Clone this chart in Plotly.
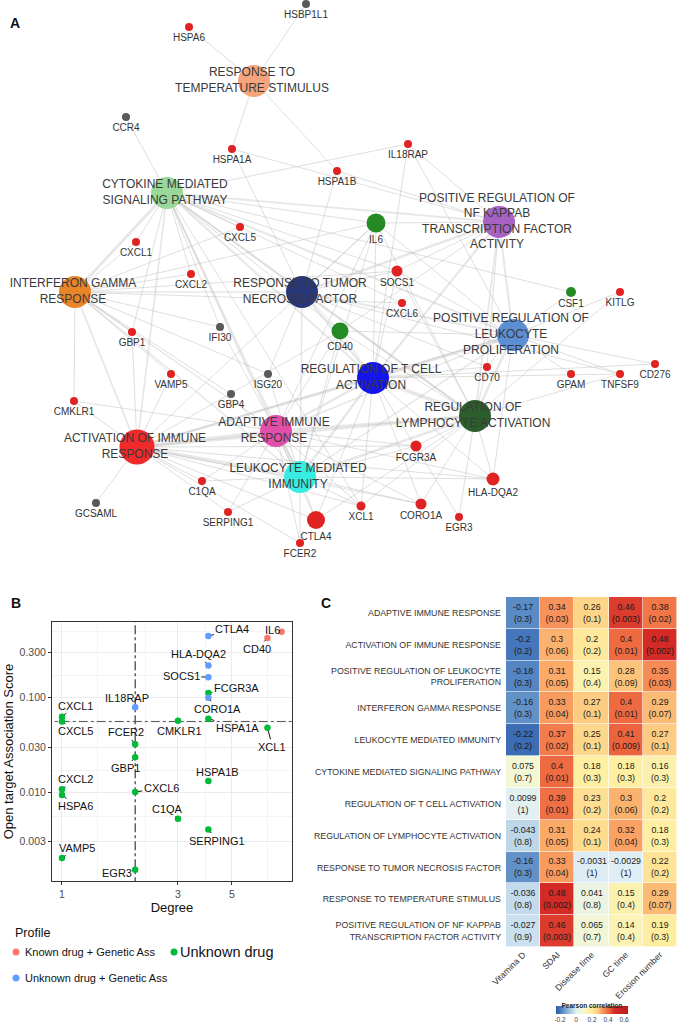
import math
import plotly.graph_objects as go

W, H = 679, 1022
FONT = "Liberation Sans, Arial, sans-serif"

def px(x):
    return x / W

def py(y):
    return 1 - y / H

# ---------------- Panel A : network data ----------------
term_ids = ["RTS", "CYT", "NFK", "IFG", "TNF", "PRL", "RTC", "RLA", "ADA", "ACT", "LMI"]
term_labels = [
    "RESPONSE TO<br>TEMPERATURE STIMULUS",
    "CYTOKINE MEDIATED<br>SIGNALING PATHWAY",
    "POSITIVE REGULATION OF<br>NF KAPPAB<br>TRANSCRIPTION FACTOR<br>ACTIVITY",
    "INTERFERON GAMMA<br>RESPONSE",
    "RESPONSE TO TUMOR<br>NECROSIS FACTOR",
    "POSITIVE REGULATION OF<br>LEUKOCYTE<br>PROLIFERATION",
    "REGULATION OF T CELL<br>ACTIVATION",
    "REGULATION OF<br>LYMPHOCYTE ACTIVATION",
    "ADAPTIVE IMMUNE<br>RESPONSE",
    "ACTIVATION OF IMMUNE<br>RESPONSE",
    "LEUKOCYTE MEDIATED<br>IMMUNITY",
]
gene_ids = ["HSBP1L1", "HSPA6", "CCR4", "HSPA1A", "IL18RAP", "HSPA1B", "IL6", "CXCL5", "CXCL1",
            "CXCL2", "SOCS1", "CXCL6", "CSF1", "KITLG", "IFI30", "CD40", "GBP1", "CD276", "CD70",
            "GPAM", "TNFSF9", "VAMP5", "ISG20", "GBP4", "CMKLR1", "FCGR3A", "C1QA", "HLA-DQA2",
            "GCSAML", "SERPING1", "CTLA4", "FCER2", "XCL1", "CORO1A", "EGR3"]
gene_group = ["other", "red", "other", "red", "red", "red", "green", "red", "red",
              "red", "red", "red", "green", "red", "other", "green", "red", "red", "red",
              "red", "red", "red", "other", "other", "red", "red", "red", "red",
              "other", "red", "red", "red", "red", "red", "red"]
membership = {
    "RTS": ["HSBP1L1", "HSPA6", "HSPA1A", "HSPA1B"],
    "CYT": ["CCR4", "CXCL1", "CXCL5", "CXCL2", "CXCL6", "IL6", "SOCS1", "CD40", "IL18RAP", "CSF1",
            "GBP1", "IFI30", "XCL1"],
    "NFK": ["IL6", "CD40", "HSPA1A", "HSPA1B", "IL18RAP", "SOCS1", "CD70"],
    "IFG": ["CXCL1", "CXCL2", "CXCL5", "CXCL6", "GBP1", "IFI30", "VAMP5", "GBP4", "ISG20", "CMKLR1",
            "SOCS1", "IL6"],
    "TNF": ["IL6", "CD40", "SOCS1", "HSPA1A", "HSPA1B", "ISG20", "CD70", "TNFSF9"],
    "PRL": ["IL6", "CD40", "CSF1", "KITLG", "CD276", "CD70", "GPAM", "TNFSF9", "IL18RAP", "SOCS1",
            "HLA-DQA2"],
    "RTC": ["IL6", "CD40", "SOCS1", "CD70", "CTLA4", "CD276", "TNFSF9", "HLA-DQA2", "XCL1", "CORO1A",
            "EGR3", "IL18RAP"],
    "RLA": ["IL6", "CD40", "SOCS1", "CD70", "CTLA4", "TNFSF9", "HLA-DQA2", "XCL1", "CORO1A", "EGR3",
            "FCGR3A", "KITLG"],
    "ADA": ["IL6", "CD40", "CTLA4", "HLA-DQA2", "FCGR3A", "C1QA", "SERPING1", "FCER2", "XCL1",
            "CORO1A", "CMKLR1", "IFI30"],
    "ACT": ["IL6", "CD40", "CTLA4", "HLA-DQA2", "FCGR3A", "C1QA", "SERPING1", "FCER2", "XCL1",
            "CORO1A", "CMKLR1", "GCSAML", "GBP1", "VAMP5"],
    "LMI": ["IL6", "CD40", "CTLA4", "HLA-DQA2", "FCGR3A", "C1QA", "SERPING1", "FCER2", "XCL1",
            "CORO1A", "GBP4", "ISG20"],
}

# network layout coordinates (graph layout space)
term_layout = {
    "RTS": (254, 81), "CYT": (167, 193), "NFK": (499, 222), "IFG": (75, 292), "TNF": (302, 292),
    "PRL": (513, 335), "RTC": (373, 378), "RLA": (475, 416), "ADA": (276, 431), "ACT": (137, 447),
    "LMI": (300, 477),
}
gene_layout = {
    "HSBP1L1": (306, 4), "HSPA6": (189, 27), "CCR4": (126, 117), "HSPA1A": (232, 149),
    "IL18RAP": (408, 144), "HSPA1B": (337, 171), "IL6": (376, 223), "CXCL5": (240, 227),
    "CXCL1": (136, 242), "CXCL2": (191, 274), "SOCS1": (397, 271), "CXCL6": (402, 303),
    "CSF1": (571, 292), "KITLG": (620, 292), "IFI30": (220, 327), "CD40": (340, 331),
    "GBP1": (132, 332), "CD276": (655, 364), "CD70": (487, 367), "GPAM": (571, 374),
    "TNFSF9": (620, 374), "VAMP5": (171, 374), "ISG20": (268, 374), "GBP4": (231, 394),
    "CMKLR1": (74, 401), "FCGR3A": (416, 446), "C1QA": (202, 481), "HLA-DQA2": (493, 479),
    "GCSAML": (96, 503), "SERPING1": (228, 512), "CTLA4": (316, 520), "FCER2": (300, 543),
    "XCL1": (361, 506), "CORO1A": (421, 504), "EGR3": (459, 517),
}

# ---------------- Panel B : degree vs association score ----------------
b_genes = ["IL6", "CD40", "CTLA4", "HLA-DQA2", "SOCS1", "FCGR3A", "CORO1A", "IL18RAP", "CXCL1",
           "CXCL5", "CMKLR1", "HSPA1A", "XCL1", "FCER2", "GBP1", "CXCL2", "HSPA6", "CXCL6",
           "HSPA1B", "C1QA", "SERPING1", "VAMP5", "EGR3"]
b_degree = [8, 7, 4, 4, 4, 4, 4, 2, 1, 1, 3, 4, 7, 2, 2, 1, 1, 2, 4, 3, 4, 1, 2]
b_score = [0.50, 0.43, 0.45, 0.22, 0.165, 0.112, 0.100, 0.079, 0.063, 0.056, 0.057, 0.060, 0.048,
           0.032, 0.0233, 0.0107, 0.0093, 0.0100, 0.0131, 0.0052, 0.0040, 0.0020, 0.0015]
b_profile = ["Known", "Known", "UnkGen", "UnkGen", "UnkGen", "Unk", "UnkGen", "UnkGen", "Unk",
             "Unk", "Unk", "Unk", "Unk", "Unk", "Unk", "Unk", "Unk", "Unk", "Unk", "Unk", "Unk",
             "Unk", "Unk"]
b_vline = 2
b_hline = 0.056
b_xticks = [1, 3, 5]
b_yticks = [0.003, 0.01, 0.03, 0.1, 0.3]
b_yticklabels = ["0.003", "0.010", "0.030", "0.100", "0.300"]

# ---------------- Panel C : correlation heatmap ----------------
c_rows = [
    "ADAPTIVE IMMUNE RESPONSE",
    "ACTIVATION OF IMMUNE RESPONSE",
    "POSITIVE REGULATION OF LEUKOCYTE<br>PROLIFERATION",
    "INTERFERON GAMMA RESPONSE",
    "LEUKOCYTE MEDIATED IMMUNITY",
    "CYTOKINE MEDIATED SIGNALING PATHWAY",
    "REGULATION OF T CELL ACTIVATION",
    "REGULATION OF LYMPHOCYTE ACTIVATION",
    "RESPONSE TO TUMOR NECROSIS FACTOR",
    "RESPONSE TO TEMPERATURE STIMULUS",
    "POSITIVE REGULATION OF NF KAPPAB<br>TRANSCRIPTION FACTOR ACTIVITY",
]
c_cols = ["Vitamina D", "SDAI", "Disease time", "GC time", "Erosion number"]
c_r = [
    ["-0.17", "0.34", "0.26", "0.46", "0.38"],
    ["-0.2", "0.3", "0.2", "0.4", "0.48"],
    ["-0.18", "0.31", "0.15", "0.28", "0.35"],
    ["-0.16", "0.33", "0.27", "0.4", "0.29"],
    ["-0.22", "0.37", "0.25", "0.41", "0.27"],
    ["0.075", "0.4", "0.18", "0.18", "0.16"],
    ["0.0099", "0.39", "0.23", "0.3", "0.2"],
    ["-0.043", "0.31", "0.24", "0.32", "0.18"],
    ["-0.16", "0.33", "-0.0031", "-0.0029", "0.22"],
    ["-0.036", "0.48", "0.041", "0.15", "0.29"],
    ["-0.027", "0.46", "0.065", "0.14", "0.19"],
]
c_p = [
    ["0.3", "0.03", "0.1", "0.003", "0.02"],
    ["0.2", "0.06", "0.2", "0.01", "0.002"],
    ["0.3", "0.05", "0.4", "0.09", "0.03"],
    ["0.3", "0.04", "0.1", "0.01", "0.07"],
    ["0.2", "0.02", "0.1", "0.009", "0.1"],
    ["0.7", "0.01", "0.3", "0.3", "0.3"],
    ["1", "0.01", "0.2", "0.06", "0.2"],
    ["0.8", "0.05", "0.1", "0.04", "0.3"],
    ["0.3", "0.04", "1", "1", "0.2"],
    ["0.8", "0.002", "0.8", "0.4", "0.07"],
    ["0.9", "0.003", "0.7", "0.4", "0.3"],
]
cbar_ticks = [-0.2, 0, 0.2, 0.4, 0.6]

# ======================= styles =======================
term_colors = {
    "RTS": "#F6A47C", "CYT": "#98D898", "NFK": "#A862C4", "IFG": "#EA8428", "TNF": "#28367A",
    "PRL": "#5B8ED2", "RTC": "#1414EC", "RLA": "#2C5E2C", "ADA": "#E24FAA", "ACT": "#F02A2A",
    "LMI": "#38ECE2",
}
term_sizes = {"ACT": 35}
gene_colors = {"red": "#E02222", "other": "#595959", "green": "#248A24"}
gene_sizes = {"IL6": 19, "CD40": 17, "CTLA4": 18, "HLA-DQA2": 13, "FCGR3A": 11, "SOCS1": 11,
              "CORO1A": 11, "CSF1": 10, "XCL1": 9}
prof_colors = {"Known": "#F8766D", "UnkGen": "#619CFF", "Unk": "#00BA38"}

fig = go.Figure()

# ---- Panel A edges
pos = dict(term_layout)
pos.update(gene_layout)
ex, ey = [], []
for t in term_ids:
    for g in membership[t]:
        x0, y0 = pos[t]
        x1, y1 = pos[g]
        ex += [x0, x1, None]
        ey += [y0, y1, None]
fig.add_trace(go.Scatter(x=ex, y=ey, mode="lines", line=dict(color="rgba(185,185,185,0.45)", width=1),
                         hoverinfo="skip", showlegend=False, xaxis="x", yaxis="y"))
for i, a in enumerate(term_ids):
    for b in term_ids[i + 1:]:
        shared = len(set(membership[a]) & set(membership[b]))
        if shared >= 3:
            (x0, y0), (x1, y1) = pos[a], pos[b]
            fig.add_trace(go.Scatter(x=[x0, x1], y=[y0, y1], mode="lines",
                                     line=dict(color="rgba(185,185,185,0.35)", width=min(0.6 + 0.3 * shared, 3.5)),
                                     hoverinfo="skip", showlegend=False, xaxis="x", yaxis="y"))

fig.add_trace(go.Scatter(
    x=[gene_layout[g][0] for g in gene_ids], y=[gene_layout[g][1] for g in gene_ids],
    mode="markers+text", text=gene_ids, textposition="bottom center",
    textfont=dict(family=FONT, size=10, color="#333333"),
    marker=dict(size=[gene_sizes.get(g, 8) for g in gene_ids], opacity=1,
                color=[gene_colors[c] for c in gene_group], line=dict(width=0)),
    hoverinfo="text", showlegend=False, xaxis="x", yaxis="y"))
fig.add_trace(go.Scatter(
    x=[term_layout[t][0] for t in term_ids], y=[term_layout[t][1] for t in term_ids],
    mode="markers", marker=dict(size=[term_sizes.get(t, 32) for t in term_ids], opacity=1,
                                color=[term_colors[t] for t in term_ids], line=dict(width=0)),
    hoverinfo="skip", showlegend=False, xaxis="x", yaxis="y"))
fig.add_trace(go.Scatter(
    x=[term_layout[t][0] - 2 for t in term_ids], y=[term_layout[t][1] for t in term_ids],
    mode="text", text=term_labels, textposition="middle center",
    textfont=dict(family=FONT, size=12, color="#3A3A3A"),
    hoverinfo="skip", showlegend=False, xaxis="x", yaxis="y"))

# ---- Panel B
fig.add_trace(go.Scatter(x=[b_vline, b_vline], y=[0.001, 1], mode="lines",
                         line=dict(color="#111111", width=1, dash="dashdot"),
                         hoverinfo="skip", showlegend=False, xaxis="x2", yaxis="y2"))
fig.add_trace(go.Scatter(x=[0.5, 12], y=[b_hline, b_hline], mode="lines",
                         line=dict(color="#555555", width=1, dash="dashdot"),
                         hoverinfo="skip", showlegend=False, xaxis="x2", yaxis="y2"))
fig.add_trace(go.Scatter(x=b_degree, y=b_score, mode="markers",
                         marker=dict(size=6.5, opacity=1, color=[prof_colors[p] for p in b_profile]),
                         text=b_genes, hoverinfo="text", showlegend=False, xaxis="x2", yaxis="y2"))

label_offsets = {
    "IL6": (-9, -2), "CD40": (-10, 11), "CTLA4": (24, -7), "HLA-DQA2": (-10, -11),
    "SOCS1": (-27, -1), "FCGR3A": (28, -5), "CORO1A": (9, 11), "IL18RAP": (-8, -9),
    "CXCL1": (14, -11), "CXCL5": (14, 10), "CMKLR1": (2, 10), "HSPA1A": (29, 9),
    "XCL1": (5, 19), "FCER2": (-9, -12), "GBP1": (-10, 11), "CXCL2": (14, -10),
    "HSPA6": (14, 11), "CXCL6": (26, -4), "HSPA1B": (9, -9), "C1QA": (-10, -10),
    "SERPING1": (9, 11), "VAMP5": (15, -10), "EGR3": (-18, 3),
}
annotations = []
for g, d, s in zip(b_genes, b_degree, b_score):
    ax, ay = label_offsets[g]
    annotations.append(dict(
        x=math.log10(d), y=math.log10(s), xref="x2", yref="y2", text=g,
        showarrow=(g != "IL6"), arrowhead=0, arrowwidth=1, arrowcolor="#111111",
        ax=ax, ay=ay, standoff=3, startstandoff=0,
        xshift=(ax if g == "IL6" else 0), yshift=(-ay if g == "IL6" else 0),
        font=dict(family=FONT, size=11, color="#111111")))

# ---- Panel C heatmap
z = [[float(v) for v in row] for row in c_r]
txt = [[f"{r}<br>({p})" for r, p in zip(rr, pp)] for rr, pp in zip(c_r, c_p)]
zmin, zmax = -0.25, 0.65
anchors = [(-0.25, "#2C5CA6"), (-0.2, "#4677BC"), (-0.1, "#8DB8DA"), (0.0, "#E1EFF5"),
           (0.08, "#F5F8D2"), (0.18, "#FEEFA2"), (0.26, "#FDD488"), (0.31, "#FBAA68"),
           (0.37, "#F37C4C"), (0.42, "#EA5E3A"), (0.48, "#D42B26"), (0.65, "#BE1A1E")]
cscale = [[(v - zmin) / (zmax - zmin), c] for v, c in anchors]
fig.add_trace(go.Heatmap(
    z=z, x=c_cols, y=c_rows, text=txt, texttemplate="%{text}",
    textfont=dict(family=FONT, size=8.8, color="#1A1A1A"),
    colorscale=cscale, zmin=zmin, zmax=zmax, xgap=0.6, ygap=0.6,
    xaxis="x3", yaxis="y3", hoverinfo="skip",
    colorbar=dict(orientation="h", x=px(592), xanchor="center", y=py(1021), yanchor="bottom",
                  len=72, lenmode="pixels", thickness=8, outlinewidth=0, xpad=0, ypad=0,
                  tickvals=cbar_ticks, ticktext=["-0.2", "0", "0.2", "0.4", "0.6"], tickangle=0,
                  tickfont=dict(family=FONT, size=6.5, color="#444444"), ticks="",
                  title=dict(text="<b>Pearson correlation</b>", side="top",
                             font=dict(family=FONT, size=6.5, color="#222222")))))

# ---- panel letters, legend
for t, x, y in [("A", 15, 23), ("B", 16, 603), ("C", 326, 603)]:
    annotations.append(dict(x=px(x), y=py(y), xref="paper", yref="paper", text=f"<b>{t}</b>",
                            showarrow=False, xanchor="center", yanchor="middle",
                            font=dict(family=FONT, size=14, color="#111111")))
annotations.append(dict(x=px(13), y=py(933), xref="paper", yref="paper", text="Profile", showarrow=False,
                        xanchor="left", yanchor="middle", font=dict(family=FONT, size=12.5, color="#111111")))
legend_items = [("Known drug + Genetic Ass", "Known", 16, 952, 11),
                ("Unknown drug", "Unk", 174, 952, 14.5),
                ("Unknown drug + Genetic Ass", "UnkGen", 16, 978, 11)]
shapes = []
for label, prof, x, y, sz in legend_items:
    shapes.append(dict(type="circle", xref="paper", yref="paper", x0=px(x - 3.5), x1=px(x + 3.5),
                       y0=py(y + 3.5), y1=py(y - 3.5), fillcolor=prof_colors[prof], line=dict(width=0)))
    annotations.append(dict(x=px(x + 7 if prof != "Unk" else x + 4), y=py(y), xref="paper", yref="paper",
                            text=label, showarrow=False, xanchor="left", yanchor="middle",
                            font=dict(family=FONT, size=sz, color="#111111")))

B_L, B_R, B_T, B_B = 52, 292, 622, 881
C_L, C_R, C_T, C_B = 506, 677, 597, 947

fig.update_layout(
    width=W, height=H, margin=dict(l=0, r=0, t=0, b=0, autoexpand=False),
    paper_bgcolor="white", plot_bgcolor="white",
    font=dict(family=FONT),
    annotations=annotations, shapes=shapes,
    xaxis=dict(domain=[0, 1], range=[0, W], visible=False, fixedrange=True),
    yaxis=dict(domain=[py(590), 1], range=[590, 0], visible=False, fixedrange=True),
    xaxis2=dict(domain=[px(B_L), px(B_R)], anchor="y2", type="log", range=[-0.041, 0.946],
                tickvals=b_xticks, ticktext=[str(v) for v in b_xticks],
                showgrid=True, gridcolor="#EBEBEB", gridwidth=1, zeroline=False,
                showline=True, mirror=True, linecolor="#333333", linewidth=1,
                ticks="outside", ticklen=3, tickcolor="#333333",
                tickfont=dict(family=FONT, size=10.5, color="#4D4D4D"),
                title=dict(text="Degree", font=dict(family=FONT, size=13, color="#111111"), standoff=4),
                minor=dict(showgrid=True, gridcolor="#F4F4F4", tickvals=[1.4, 2.2, 3.9, 7.0])),
    yaxis2=dict(domain=[py(B_B), py(B_T)], anchor="x2", type="log", range=[-2.944, -0.197],
                tickvals=b_yticks, ticktext=b_yticklabels,
                showgrid=True, gridcolor="#EBEBEB", gridwidth=1, zeroline=False,
                showline=True, mirror=True, linecolor="#333333", linewidth=1,
                ticks="outside", ticklen=3, tickcolor="#333333",
                tickfont=dict(family=FONT, size=10.5, color="#4D4D4D"),
                title=dict(text="Open target Association Score", font=dict(family=FONT, size=13, color="#111111"),
                           standoff=3),
                minor=dict(showgrid=True, gridcolor="#F4F4F4", tickvals=[0.0055, 0.017, 0.055, 0.17, 0.5])),
    xaxis3=dict(domain=[px(C_L), px(C_R)], anchor="y3", tickangle=-45, showgrid=False, zeroline=False,
                ticks="", tickfont=dict(family=FONT, size=8.8, color="#333333"), showline=False),
    yaxis3=dict(domain=[py(C_B), py(C_T)], anchor="x3", autorange="reversed", showgrid=False,
                zeroline=False, ticks="", ticklabelstandoff=4,
                tickfont=dict(family=FONT, size=8.8, color="#333333"), showline=False),
)

fig.write_html("out.html", config={"displayModeBar": False},
               post_script="document.body.style.margin='0';document.body.style.overflow='hidden';")
